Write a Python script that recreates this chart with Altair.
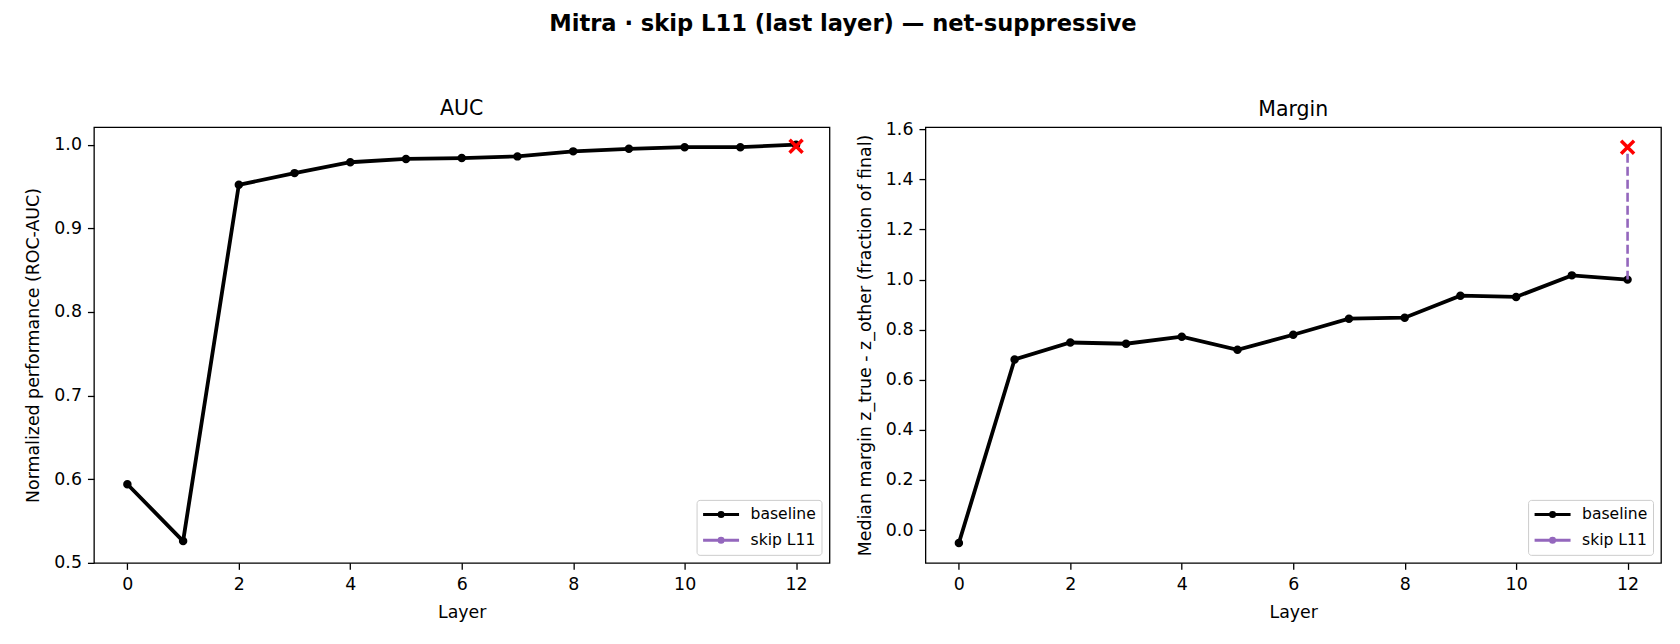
import altair as alt
import pandas as pd

# ---- data ----
layers = list(range(13))
auc_baseline = [0.594, 0.526, 0.952, 0.966, 0.979, 0.983, 0.984, 0.986, 0.992, 0.995, 0.997, 0.997, 1.000]
auc_skip = 0.998
margin_baseline = [-0.052, 0.681, 0.749, 0.744, 0.772, 0.720, 0.780, 0.844, 0.848, 0.936, 0.931, 1.017, 1.000]
margin_skip = 1.529
skip_layer = 12
series_names = ["baseline", "skip L11"]
series_colors = ["black", "#9467bd"]
x_ticks = [0, 2, 4, 6, 8, 10, 12]
auc_ticks = [0.5, 0.6, 0.7, 0.8, 0.9, 1.0]
margin_ticks = [0.0, 0.2, 0.4, 0.6, 0.8, 1.0, 1.2, 1.4, 1.6]

FONT = "DejaVu Sans"
LEGEND_PATH = "M-1,0L3.5,0M1,0A0.25,0.25,0,1,0,1.5,0A0.25,0.25,0,1,0,1,0Z"
X_PATH = "M-1,-1L1,1M1,-1L-1,1"


def panel(values, skip_val, ydomain, yticks, ytitle, title, title_offset):
    base = pd.DataFrame({"layer": layers, "value": values, "series": ["baseline"] * len(layers)})
    skip = pd.DataFrame({"layer": [skip_layer], "value": [values[skip_layer]], "skip": [skip_val]})
    cross_df = pd.DataFrame({"layer": [skip_layer], "value": [skip_val]})

    x = alt.X("layer:Q",
              scale=alt.Scale(domain=[-0.6, 12.6], nice=False, zero=False),
              axis=alt.Axis(values=x_ticks, title="Layer", format="d"))
    y = alt.Y("value:Q",
              scale=alt.Scale(domain=ydomain, nice=False, zero=False),
              axis=alt.Axis(values=yticks, format=".1f", title=ytitle))

    leg = alt.Legend(title=None, symbolType=LEGEND_PATH, symbolSize=256,
                     symbolStrokeWidth=3, symbolOpacity=1)
    sc = alt.Scale(domain=series_names, range=series_colors)

    line = alt.Chart(base).mark_line(color="black", strokeWidth=3.8).encode(x=x, y=y)
    pts = alt.Chart(base).mark_point(filled=True, size=42, opacity=1).encode(
        x=x, y=y,
        fill=alt.Fill("series:N", scale=sc, legend=leg),
        stroke=alt.Stroke("series:N", scale=sc, legend=leg),
    )
    rule = alt.Chart(skip).mark_rule(color="#9467bd", strokeWidth=2.6, strokeDash=[9, 4]).encode(
        x=x, y=y, y2="skip:Q")
    cross = alt.Chart(cross_df).mark_point(shape=X_PATH, filled=False, color="red",
                                           strokeWidth=3.5, size=169, opacity=1).encode(x=x, y=y)
    return alt.layer(line, pts, rule, cross).properties(
        width=736, height=436,
        title=alt.TitleParams(title, fontSize=20.5, fontWeight="normal", font=FONT,
                              baseline="top", offset=title_offset, anchor="middle", color="black"))


left = panel(auc_baseline, auc_skip, [0.5, 1.021], auc_ticks,
             "Normalized performance (ROC-AUC)", "AUC", 8)
right = panel(margin_baseline, margin_skip, [-0.131, 1.609], margin_ticks,
              "Median margin z_true - z_other (fraction of final)", "Margin", 0)

chart = alt.hconcat(left, right, spacing=25).resolve_scale(
    fill="independent", stroke="independent"
).resolve_legend(fill="independent", stroke="independent").properties(
    title=alt.TitleParams("Mitra · skip L11 (last layer) — net-suppressive",
                          fontSize=22.6, fontWeight="bold", font=FONT, baseline="top",
                          anchor="middle", offset=62, color="black"),
    padding={"left": 16, "top": 5, "right": 10, "bottom": 5},
).configure(font=FONT).configure_view(
    stroke="black", strokeWidth=1.3
).configure_axis(
    domain=False, grid=False, ticks=True, tickColor="black", tickWidth=1.3, tickSize=6.5,
    labelFont=FONT, labelFontSize=17.4, labelColor="black",
    titleFont=FONT, titleFontSize=17.4, titleFontWeight="normal", titleColor="black",
).configure_axisX(labelPadding=6, titlePadding=11).configure_axisY(
    labelPadding=6, titlePadding=11
).configure_legend(
    orient="bottom-right", offset=8, padding=5, strokeColor="#cccccc", cornerRadius=3,
    fillColor="rgba(255,255,255,0.8)", labelFont=FONT, labelFontSize=15.6,
    labelColor="black", labelOffset=30, rowPadding=7
)

chart.save("out.html", embed_options={"renderer": "svg", "actions": False})
